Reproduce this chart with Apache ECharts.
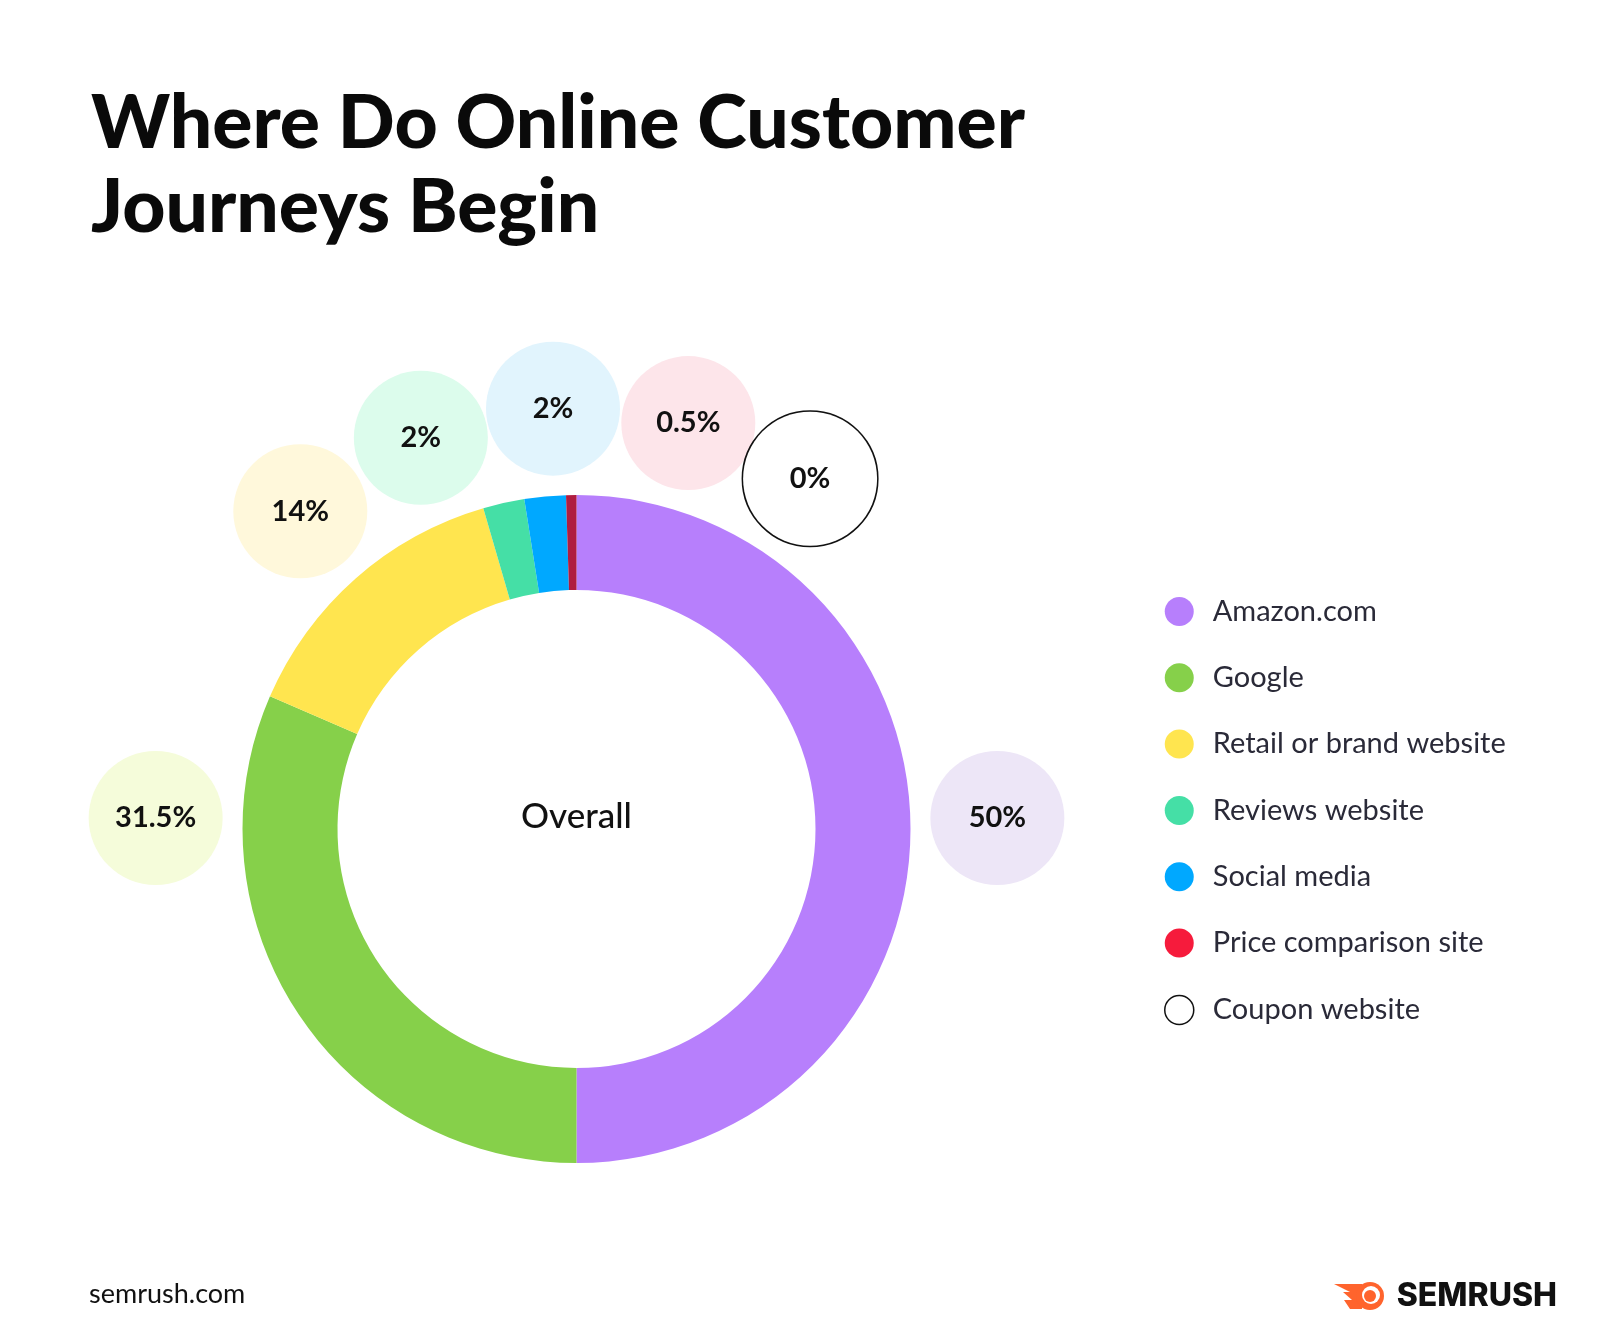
<!DOCTYPE html>
<html>
<head>
<meta charset="utf-8">
<script src="https://cdn.jsdelivr.net/npm/echarts@6/dist/echarts.min.js"></script>
<style>
html,body{margin:0;padding:0;background:#fff;}
#chart{width:1600px;height:1338px;}
</style>
</head>
<body>
<div id="chart"></div>
<script>
const categories = ['Amazon.com', 'Google', 'Retail or brand website', 'Reviews website', 'Social media', 'Price comparison site', 'Coupon website'];
const values = [50, 31.5, 14, 2, 2, 0.5, 0];
const sliceColors = ['#B77FFC', '#86D04A', '#FFE54F', '#45DFA6', '#00A8FF', '#AF1D40', '#FFFFFF'];
const legendColors = ['#B77FFC', '#86D04A', '#FFE54F', '#45DFA6', '#00A8FF', '#F61B3C', '#FFFFFF'];
const bubbleColors = ['#EDE6F7', '#F5FCDA', '#FFF8DB', '#DCFCEC', '#E1F4FD', '#FDE5EA', '#FFFFFF'];
const bubbleAngles = [88.5, -88.5, -41, -21.7, -3.2, 15.4, 33.7];

const CX = 576.5, CY = 829, R_OUT = 334, R_IN = 239, R_BUBBLE = 421, BUB = 134;

const chart = echarts.init(document.getElementById('chart'), null, {renderer: 'canvas'});

const pieData = categories.map((name, i) => ({
  name: name,
  value: values[i],
  itemStyle: {color: sliceColors[i]},
  label: {
    backgroundColor: bubbleColors[i],
    borderColor: i === 6 ? '#111111' : 'transparent',
    borderWidth: i === 6 ? 1.5 : 0
  }
}));

const legendData = categories.map((name, i) => ({
  name: name,
  itemStyle: i === 6
    ? {color: '#FFFFFF', borderColor: '#111111', borderWidth: 1.5}
    : {color: legendColors[i], borderWidth: 0}
}));

const option = {
  backgroundColor: '#FFFFFF',
  animation: false,
  title: {
    text: 'Where Do Online Customer\nJourneys Begin',
    left: 86,
    top: 77,
    textStyle: {
      fontFamily: 'Lato',
      fontWeight: 900,
      fontSize: 75,
      lineHeight: 84,
      color: '#0A0A0A'
    }
  },
  legend: {
    orient: 'vertical',
    left: 1159,
    top: 592,
    icon: 'circle',
    itemWidth: 29,
    itemHeight: 29,
    itemGap: 37.3,
    selectedMode: false,
    data: legendData,
    textStyle: {
      fontFamily: 'Lato',
      fontSize: 29,
      lineHeight: 29,
      color: '#2A2A38',
      padding: [0, 0, 0, 14]
    }
  },
  series: [{
    type: 'pie',
    center: [CX, CY],
    radius: [R_IN, R_OUT],
    startAngle: 90,
    clockwise: true,
    avoidLabelOverlap: false,
    silent: true,
    emphasis: {disabled: true},
    labelLine: {show: false},
    label: {
      show: true,
      position: 'outside',
      formatter: '{c}%',
      fontFamily: 'Lato',
      fontWeight: 700,
      fontSize: 29,
      color: '#111111',
      width: BUB,
      height: BUB,
      lineHeight: BUB,
      borderRadius: BUB / 2,
      align: 'center',
      verticalAlign: 'middle',
      padding: 0
    },
    labelLayout: function (p) {
      const a = bubbleAngles[p.dataIndex] * Math.PI / 180;
      return {
        x: CX + R_BUBBLE * Math.sin(a),
        y: CY - R_BUBBLE * Math.cos(a),
        align: 'center',
        verticalAlign: 'middle'
      };
    },
    data: pieData
  }],
  graphic: [
    {
      type: 'text',
      x: CX,
      y: 817,
      style: {
        text: 'Overall',
        fontFamily: 'Lato',
        fontWeight: 500,
        fontSize: 35,
        fill: '#111111',
        align: 'center',
        verticalAlign: 'middle'
      }
    },
    {
      type: 'text',
      x: 89,
      y: 1294,
      style: {
        text: 'semrush.com',
        fontFamily: 'Lato',
        fontSize: 27,
        fill: '#111111',
        verticalAlign: 'middle'
      }
    },
    {
      type: 'text',
      x: 1557,
      y: 1296,
      style: {
        text: 'SEMRUSH',
        fontFamily: 'Inter',
        fontWeight: 800,
        fontSize: 32,
        fill: '#111111',
        align: 'right',
        verticalAlign: 'middle'
      }
    },
    {
      type: 'polygon',
      shape: {points: [[1334, 1284], [1362, 1284], [1362, 1309], [1350, 1309], [1344, 1300], [1352, 1300], [1343, 1292], [1350, 1292]]},
      style: {fill: '#FF642D'}
    },
    {
      type: 'circle',
      shape: {cx: 1370, cy: 1296, r: 14},
      style: {fill: '#FF642D'}
    },
    {
      type: 'circle',
      shape: {cx: 1371, cy: 1295, r: 9},
      style: {fill: '#FFFFFF'}
    },
    {
      type: 'circle',
      shape: {cx: 1370, cy: 1296, r: 6},
      style: {fill: '#FF642D'}
    }
  ]
};

chart.setOption(option);
</script>
</body>
</html>
